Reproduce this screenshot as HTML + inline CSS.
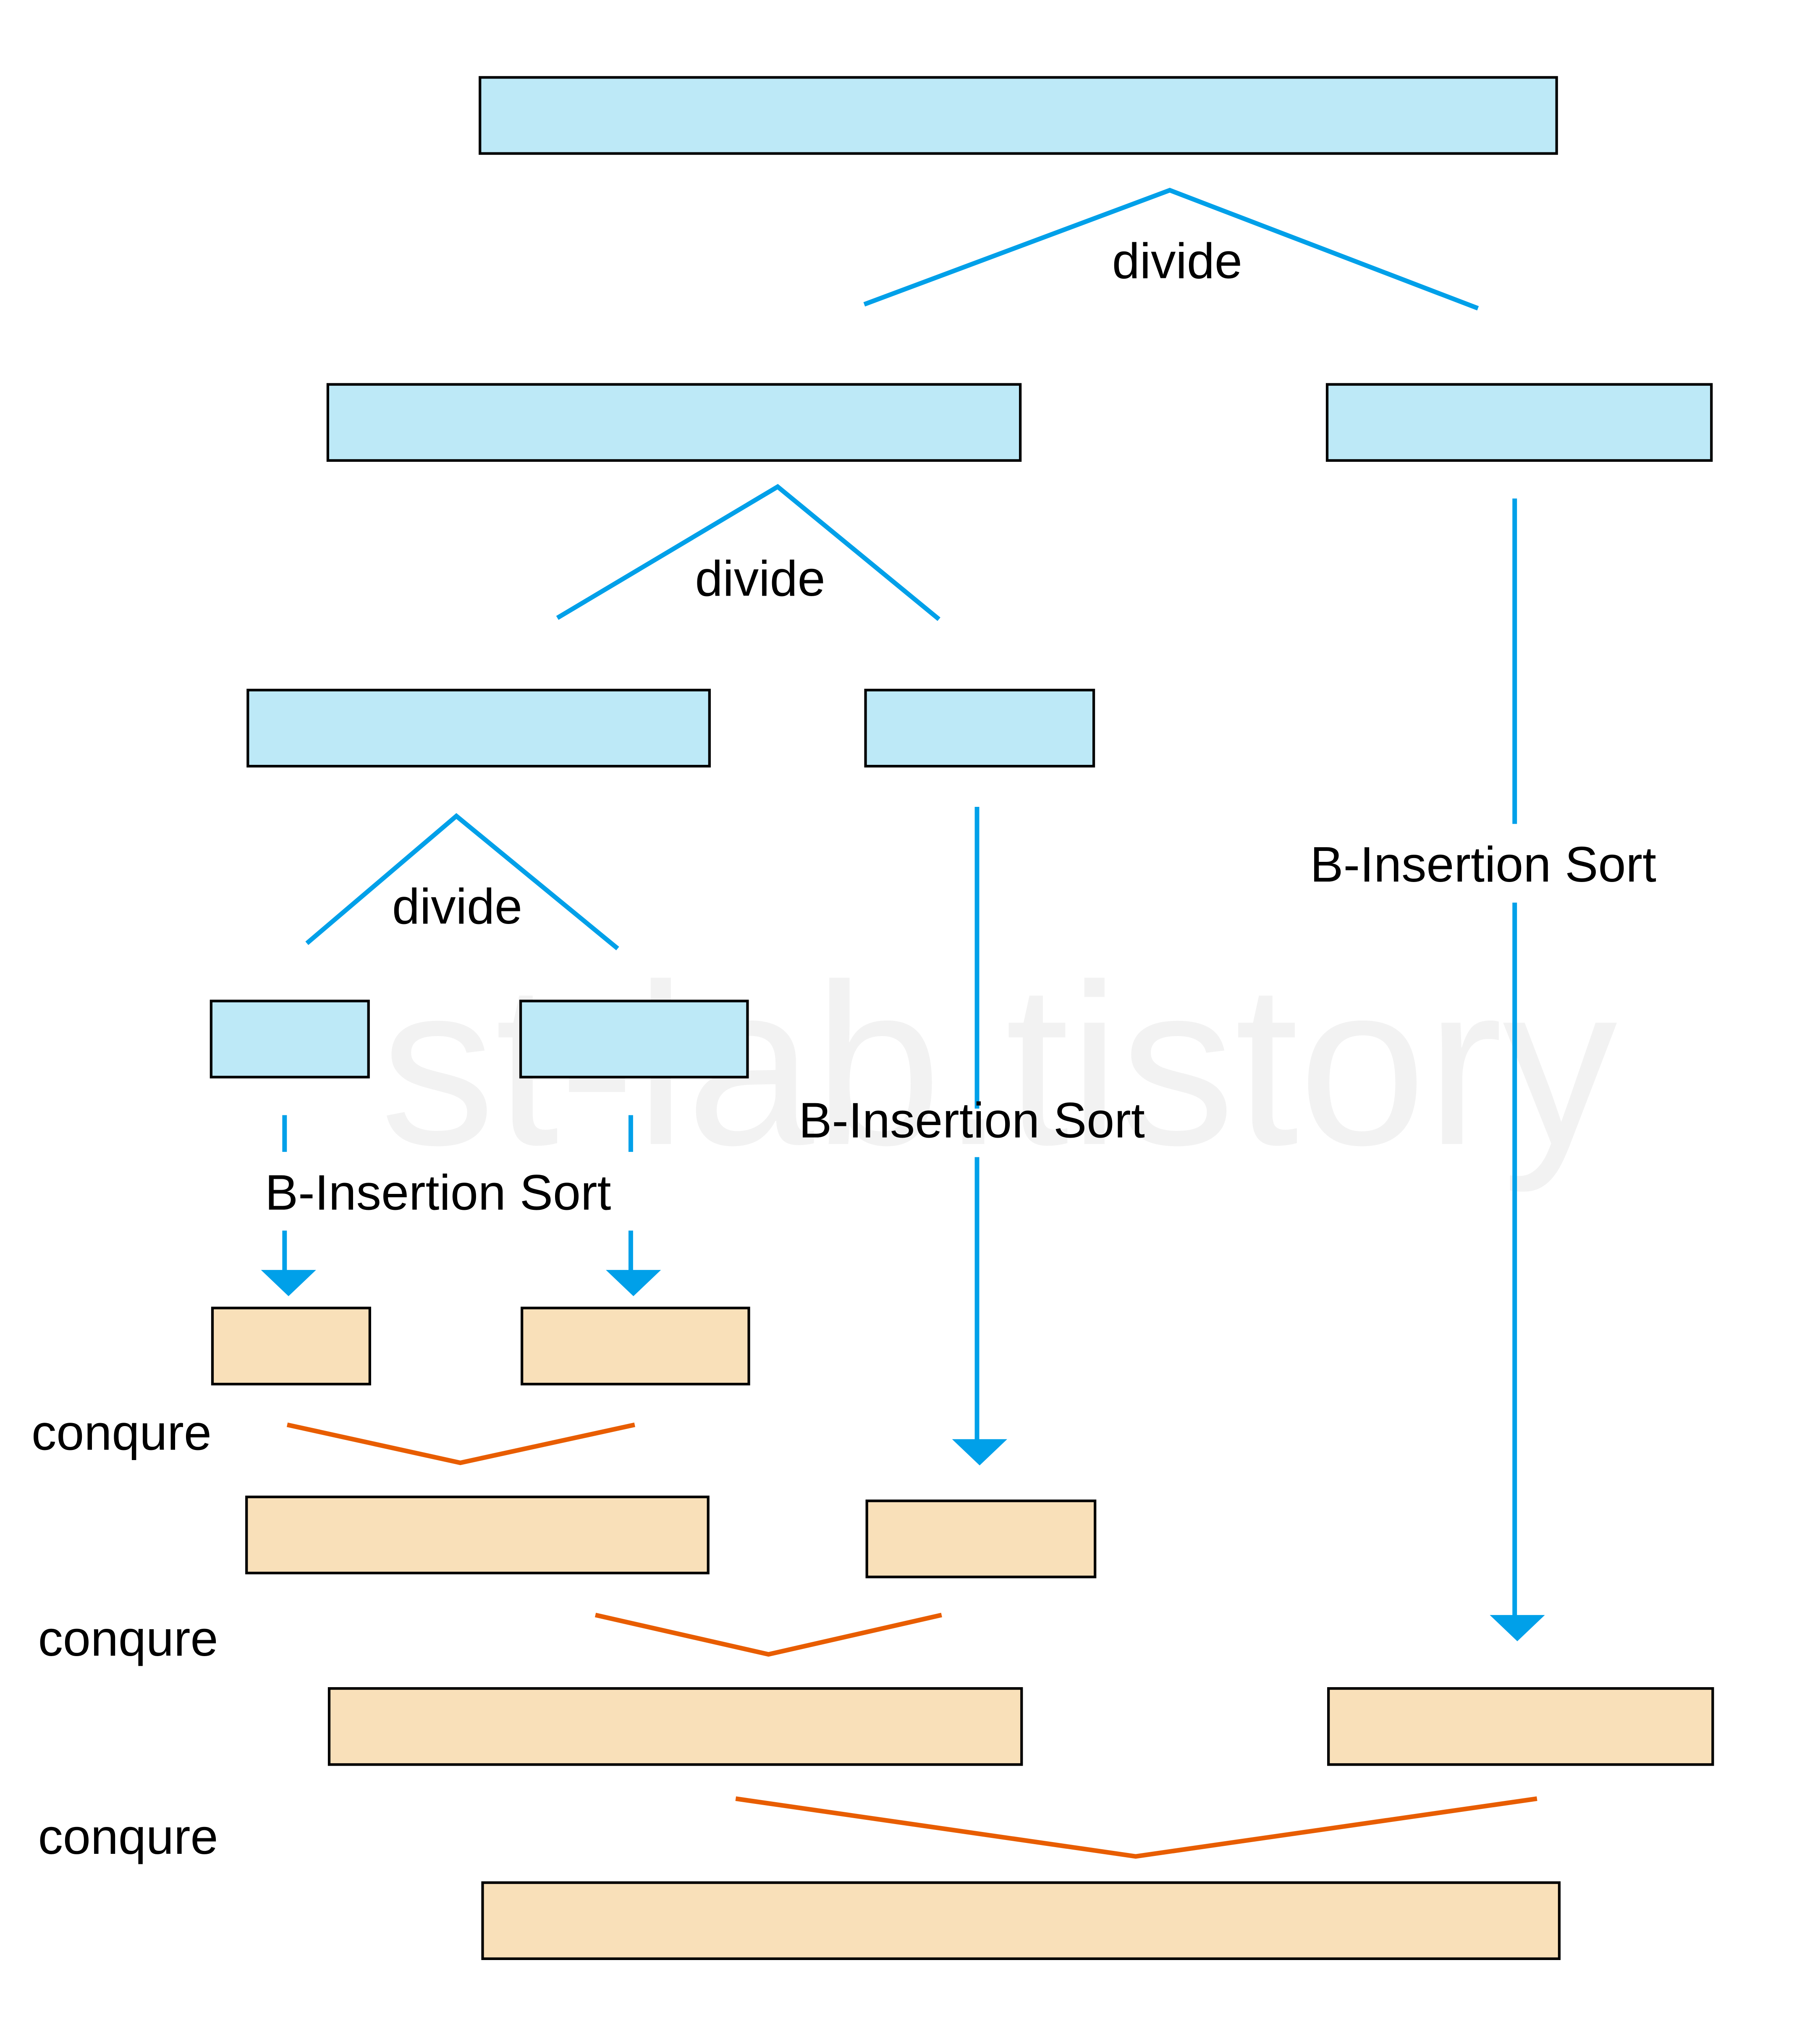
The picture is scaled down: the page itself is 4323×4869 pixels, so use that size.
<!DOCTYPE html>
<html><head><meta charset="utf-8"><style>
html,body{margin:0;padding:0;background:#fff}
svg{display:block}
text{font-family:"Liberation Sans","DejaVu Sans",sans-serif}
</style></head><body>
<svg width="4323" height="4869" viewBox="0 0 1384 1558" preserveAspectRatio="none" xmlns="http://www.w3.org/2000/svg">
<rect width="1384" height="1558" fill="#fff"/>
<text x="290" y="872" font-size="175" fill="#f2f2f2">st-lab.tistory</text>
<g stroke="#000" stroke-width="2">
<g fill="#bde9f7">
<rect x="366" y="59" width="821" height="58"/>
<rect x="250" y="293" width="528" height="58"/>
<rect x="1012" y="293" width="293" height="58"/>
<rect x="189" y="526" width="352" height="58"/>
<rect x="660" y="526" width="174" height="58"/>
<rect x="161" y="763" width="120" height="58"/>
<rect x="397" y="763" width="173" height="58"/>
</g>
<g fill="#f9e0b9">
<rect x="162" y="997" width="120" height="58"/>
<rect x="398" y="997" width="173" height="58"/>
<rect x="188" y="1141" width="352" height="58"/>
<rect x="661" y="1144" width="174" height="58"/>
<rect x="251" y="1287" width="528" height="58"/>
<rect x="1013" y="1287" width="293" height="58"/>
<rect x="368" y="1435" width="821" height="58"/>
</g>
</g>
<g stroke="#00a0e9" stroke-width="3.5" fill="none">
<polyline points="659,232 892,145 1127,235"/>
<polyline points="425,471 593,371 716,472"/>
<polyline points="234,719 348,622 471,723"/>
<line x1="217" y1="850" x2="217" y2="878"/>
<line x1="217" y1="938" x2="217" y2="970"/>
<line x1="481" y1="850" x2="481" y2="878"/>
<line x1="481" y1="938" x2="481" y2="970"/>
<line x1="745" y1="615" x2="745" y2="845"/>
<line x1="745" y1="882" x2="745" y2="1100"/>
<line x1="1155" y1="380" x2="1155" y2="628"/>
<line x1="1155" y1="688" x2="1155" y2="1234"/>
</g>
<g fill="#00a0e9">
<polygon points="199,968 241,968 220,988"/>
<polygon points="462,968 504,968 483,988"/>
<polygon points="726,1097 768,1097 747,1117"/>
<polygon points="1136,1231 1178,1231 1157,1251"/>
</g>
<g stroke="#e85d00" stroke-width="3.5" fill="none">
<polyline points="219,1086 351,1115 484,1086"/>
<polyline points="454,1231 586,1261 718,1231"/>
<polyline points="561,1371 866,1415 1172,1371"/>
</g>
<g font-size="38" fill="#000">
<text x="848" y="212">divide</text>
<text x="530" y="454">divide</text>
<text x="299" y="704">divide</text>
<text x="202" y="922">B-Insertion Sort</text>
<text x="609" y="867">B-Insertion Sort</text>
<text x="999" y="672">B-Insertion Sort</text>
<text x="24" y="1105">conqure</text>
<text x="29" y="1262">conqure</text>
<text x="29" y="1413">conqure</text>
</g>
</svg>
</body></html>
